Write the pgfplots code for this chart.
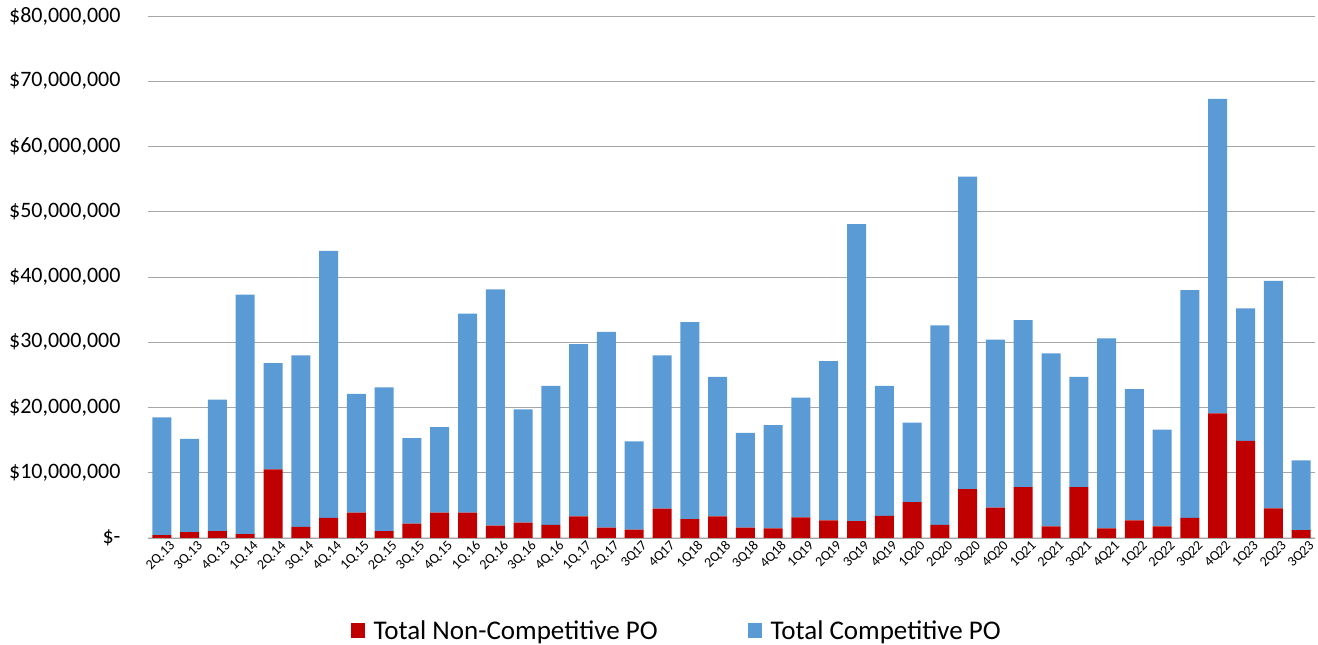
\documentclass[border=0pt]{standalone}
\usepackage{pgfplots}
\pgfplotsset{compat=1.18}
\usepackage{fontspec}
\setmainfont{Carlito}
\definecolor{ncred}{HTML}{C00000}
\definecolor{cblue}{HTML}{5B9BD5}
\definecolor{gridgray}{HTML}{A6A6A6}
\definecolor{axgray}{HTML}{D9D9D9}
\begin{document}
\begin{tikzpicture}
\useasboundingbox (-148pt,-107pt) rectangle (1170pt,538pt);
\begin{axis}[
  at={(0pt,0pt)}, anchor=south west,
  scale only axis,
  width=1167pt, height=522pt,
  ybar stacked, bar width=19pt,
  xmin=-0.5, xmax=41.5,
  ymin=0, ymax=80,
  xtick=data,
  xticklabels={2Q.13,3Q.13,4Q.13,1Q.14,2Q.14,3Q.14,4Q.14,1Q.15,2Q.15,3Q.15,4Q.15,1Q.16,2Q.16,3Q.16,4Q.16,1Q.17,2Q.17,3Q17,4Q17,1Q18,2Q18,3Q18,4Q18,1Q19,2Q19,3Q19,4Q19,1Q20,2Q20,3Q20,4Q20,1Q21,2Q21,3Q21,4Q21,1Q22,2Q22,3Q22,4Q22,1Q23,2Q23,3Q23},
  ytick={0,10,20,30,40,50,60,70,80},
  yticklabels={{\$-\hspace{8pt}},{\$10,000,000},{\$20,000,000},{\$30,000,000},{\$40,000,000},{\$50,000,000},{\$60,000,000},{\$70,000,000},{\$80,000,000}},
  xticklabel style={rotate=45, anchor=north east, font=\fontsize{14}{16}\selectfont, inner sep=1pt, yshift=-5pt, xshift=5pt},
  yticklabel style={font=\fontsize{22}{26}\selectfont, xshift=-24pt, anchor=east},
  major tick length=0pt,
  axis x line*=bottom, axis y line*=left,
  x axis line style={draw=axgray, line width=1pt},
  y axis line style={draw=none},
  ymajorgrids, grid style={gridgray, line width=0.8pt},
  legend columns=2,
  legend style={at={(0.453,-0.178)}, anchor=center, draw=none, font=\fontsize{27}{31}\selectfont,
    /tikz/every even column/.append style={column sep=88pt}},
  legend image code/.code={\fill[#1] (0pt,-7pt) rectangle (14pt,8pt);},
]
\addplot[fill=ncred, draw=none] coordinates {
(0,0.45) (1,0.9) (2,1.07) (3,0.6) (4,10.5) (5,1.7) (6,3.1) (7,3.9) (8,1.07) (9,2.2)
(10,3.9) (11,3.9) (12,1.9) (13,2.35) (14,2.0) (15,3.3) (16,1.6) (17,1.3) (18,4.5) (19,2.9)
(20,3.3) (21,1.6) (22,1.47) (23,3.15) (24,2.7) (25,2.6) (26,3.4) (27,5.5) (28,2.0) (29,7.5)
(30,4.65) (31,7.8) (32,1.8) (33,7.8) (34,1.47) (35,2.7) (36,1.8) (37,3.1) (38,19.1) (39,14.9)
(40,4.55) (41,1.2)};
\addlegendentry{\hspace{7pt}Total Non-Competitive PO}
\addplot[fill=cblue, draw=none] coordinates {
(0,18.05) (1,14.3) (2,20.13) (3,36.7) (4,16.3) (5,26.3) (6,40.9) (7,18.2) (8,22.03) (9,13.1)
(10,13.1) (11,30.5) (12,36.2) (13,17.35) (14,21.3) (15,26.4) (16,30.0) (17,13.5) (18,23.5) (19,30.2)
(20,21.4) (21,14.5) (22,15.83) (23,18.35) (24,24.4) (25,45.5) (26,19.9) (27,12.2) (28,30.6) (29,47.9)
(30,25.75) (31,25.6) (32,26.5) (33,16.9) (34,29.13) (35,20.1) (36,14.8) (37,34.9) (38,48.2) (39,20.3)
(40,34.85) (41,10.7)};
\addlegendentry{\hspace{7pt}Total Competitive PO}
\end{axis}
\end{tikzpicture}
\end{document}
